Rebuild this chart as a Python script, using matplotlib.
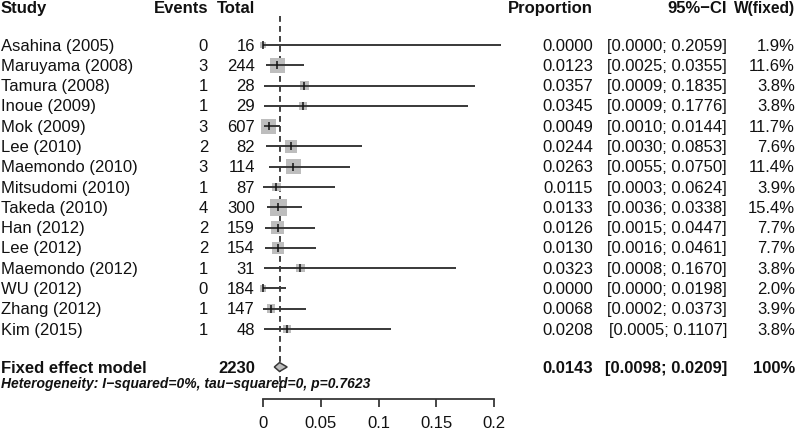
import matplotlib
matplotlib.use("Agg")
import matplotlib.pyplot as plt
import matplotlib.transforms as mtransforms
import numpy as np

plt.rcParams['font.family'] = ['Liberation Sans', 'DejaVu Sans']

studies = ["Asahina (2005)", "Maruyama (2008)", "Tamura (2008)", "Inoue (2009)",
           "Mok (2009)", "Lee (2010)", "Maemondo (2010)", "Mitsudomi (2010)",
           "Takeda (2010)", "Han (2012)", "Lee (2012)", "Maemondo (2012)",
           "WU (2012)", "Zhang (2012)", "Kim (2015)"]
events = [0, 3, 1, 1, 3, 2, 3, 1, 4, 2, 2, 1, 0, 1, 1]
totals = [16, 244, 28, 29, 607, 82, 114, 87, 300, 159, 154, 31, 184, 147, 48]
prop = [0.0000, 0.0123, 0.0357, 0.0345, 0.0049, 0.0244, 0.0263, 0.0115,
        0.0133, 0.0126, 0.0130, 0.0323, 0.0000, 0.0068, 0.0208]
ci_lo = [0.0000, 0.0025, 0.0009, 0.0009, 0.0010, 0.0030, 0.0055, 0.0003,
         0.0036, 0.0015, 0.0016, 0.0008, 0.0000, 0.0002, 0.0005]
ci_hi = [0.2059, 0.0355, 0.1835, 0.1776, 0.0144, 0.0853, 0.0750, 0.0624,
         0.0338, 0.0447, 0.0461, 0.1670, 0.0198, 0.0373, 0.1107]
weights = [1.9, 11.6, 3.8, 3.8, 11.7, 7.6, 11.4, 3.9, 15.4, 7.7, 7.7, 3.8, 2.0, 3.9, 3.8]

fixed_total = 2230
fixed_est, fixed_lo, fixed_hi = 0.0143, 0.0098, 0.0209
het_text = "Heterogeneity: I\u2212squared=0%, tau\u2212squared=0, p=0.7623"
xticks = [0, 0.05, 0.1, 0.15, 0.2]
xtick_labels = ["0", "0.05", "0.1", "0.15", "0.2"]

W, H = 800, 435
row_px = 20.29
first_px = 46

fig = plt.figure(figsize=(W / 100, H / 100), dpi=100)
ax = fig.add_axes([0, 0, 1, 1])
# x: 0 -> pixel 263, 0.2 -> pixel 494
scale = 231 / 0.2
ax.set_xlim(-263 / scale, (W - 263) / scale)
ax.set_ylim(1 + (H - first_px) / row_px, 1 - first_px / row_px)

rows = np.arange(1, len(studies) + 1)
fixed_row = 16.87
het_row = 17.68
head_row = -0.85

line_col = "#383838"
box_col = "#bdbdbd"

# squares, side ~ sqrt(weight)
side_px = 15 * np.sqrt(np.array(weights) / 11.6)
ax.scatter(prop, rows, marker="s", s=(side_px * 0.72) ** 2, color=box_col,
           edgecolors="none", zorder=2)
ax.hlines(rows, ci_lo, ci_hi, color=line_col, lw=1.4, zorder=3)
ax.scatter(prop, rows, marker="|", s=30, color="#111111", lw=1.1, zorder=4)

# fixed effect diamond
dh = 0.22
ax.fill([fixed_lo, fixed_est, fixed_hi, fixed_est],
        [fixed_row, fixed_row - dh, fixed_row, fixed_row + dh],
        facecolor=box_col, edgecolor=line_col, lw=1.1, zorder=3)

ax.vlines(fixed_est, -0.43, 18.2, color="#222222", lw=1.2,
          linestyles=(0, (3.5, 2.5)), zorder=1)

# axis
for s in ["top", "left", "right"]:
    ax.spines[s].set_visible(False)
ax.spines["bottom"].set_position(("data", 1 + (400 - first_px) / row_px))
ax.spines["bottom"].set_bounds(0, 0.2)
ax.spines["bottom"].set_color(line_col)
ax.spines["bottom"].set_linewidth(1.3)
ax.set_xticks(xticks)
ax.set_xticklabels(xtick_labels)
ax.tick_params(axis="x", direction="out", length=5.8, width=1.3, color=line_col,
               pad=5.5, labelsize=12, labelcolor="#111111")
ax.set_yticks([])

tr = mtransforms.blended_transform_factory(fig.transFigure, ax.transData)
fs = 12
tc = "#111111"

def col(px, y, s, ha, bold=False, size=fs):
    ax.text(px / W, y, s, transform=tr, ha=ha, va="center", fontsize=size,
            color=tc, fontweight="bold" if bold else "normal")

# header
col(1, head_row, "Study", "left", True)
col(208, head_row, "Events", "right", True)
col(255, head_row, "Total", "right", True)
col(593, head_row, "Proportion", "right", True)
col(727, head_row, "95%\u2212CI", "right", True)
col(795, head_row, "W(fixed)", "right", True, 11.2)

for r, name, e, n, p, lo, hi, w in zip(rows, studies, events, totals, prop,
                                      ci_lo, ci_hi, weights):
    col(1, r, name, "left")
    col(208, r, str(e), "right")
    col(255, r, str(n), "right")
    col(593, r, f"{p:.4f}", "right")
    col(727, r, f"[{lo:.4f}; {hi:.4f}]", "right")
    col(795, r, f"{w:.1f}%", "right")

col(1, fixed_row, "Fixed effect model", "left", True)
col(255, fixed_row, str(fixed_total), "right", True)
col(593, fixed_row, f"{fixed_est:.4f}", "right", True)
col(727, fixed_row, f"[{fixed_lo:.4f}; {fixed_hi:.4f}]", "right", True)
col(795, fixed_row, "100%", "right", True)

ax.text(1 / W, het_row, het_text, transform=tr, ha="left", va="center",
        fontsize=10, fontweight="bold", fontstyle="italic", color=tc)

fig.savefig("out.png", dpi=100, facecolor="white")
